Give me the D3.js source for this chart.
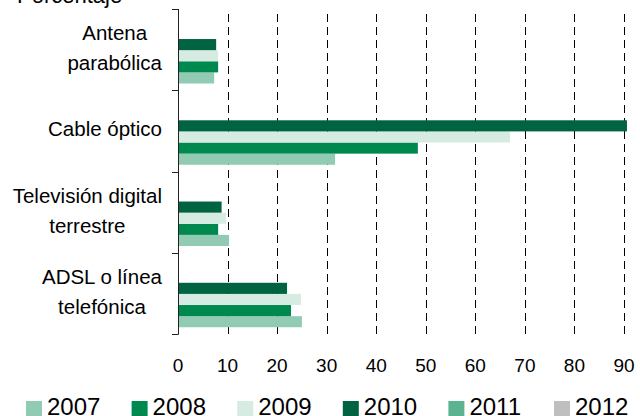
<!DOCTYPE html>
<html>
  <head>
    <meta charset="utf-8">
    <script src="https://cdn.jsdelivr.net/npm/d3@7"></script>
    <style type="text/css">
      body { margin: 0; background: #fff; }
      svg text { font-family: "Liberation Sans", Arial, sans-serif; fill: #000; }
    </style>
  </head>
  <body>
    <div class="plot_canvas"></div>
    <script>

    // data
    var categories = ["Antena parabólica", "Cable óptico", "Televisión digital terrestre", "ADSL o línea telefónica"];
    var catLines = [["Antena", "parabólica"], ["Cable óptico"], ["Televisión digital", "terrestre"], ["ADSL o línea", "telefónica"]];
    var years = ["2007", "2008", "2009", "2010", "2011", "2012"];
    var v2007 = [7.3, 31.7, 10.3, 25.0];
    var v2008 = [8.1, 48.4, 8.1, 22.8];
    var v2009 = [8.1, 67.0, 9.7, 24.8];
    var v2010 = [7.7, 90.6, 8.8, 22.0];
    var v2011 = [null, null, null, null];
    var v2012 = [null, null, null, null];
    var xTicks = [0, 10, 20, 30, 40, 50, 60, 70, 80, 90];
    var colors = ["#92cbb3", "#00894f", "#d6ece2", "#006341", "#5cb392", "#bfbfbf"];

    var series = [v2007, v2008, v2009, v2010, v2011, v2012];

    var W = 640, H = 416;
    var plot = {left: 178, right: 624, top: 9, bottom: 334};

    var svg = d3.select(".plot_canvas")
    .append("svg")
    .attr("width", W)
    .attr("height", H);

    var xScale = d3.scaleLinear()
    .domain([0, 90])
    .range([plot.left, plot.right]);

    var yScale = d3.scaleBand()
    .domain(categories)
    .range([plot.top, plot.bottom]);

    // series slots inside each category, 2012 on top, 2007 at bottom
    var step = yScale.step();
    var inner = d3.scaleBand()
    .domain(years.slice().reverse())
    .range([step * 0.096, step * 0.917]);

    var colorScale = d3.scaleOrdinal().domain(years).range(colors);

    // title (cut off at the top)
    svg.append("text")
    .attr("x", 17)
    .attr("y", 3)
    .style("font-size", "22px")
    .text("Porcentaje");

    // dashed grid
    svg.append("g")
    .selectAll("line")
    .data(xTicks.filter(function(d) { return d > 0; })).enter()
    .append("line")
    .attr("x1", function(d) { return Math.round(xScale(d)) + 0.5; })
    .attr("x2", function(d) { return Math.round(xScale(d)) + 0.5; })
    .attr("y1", plot.bottom)
    .attr("y2", plot.top)
    .attr("stroke", "#000")
    .attr("stroke-width", 1)
    .attr("stroke-dasharray", "8,5");

    // bars
    var groups = svg.append("g")
    .selectAll("g")
    .data(years).enter()
    .append("g")
    .attr("fill", function(d) { return colorScale(d); });

    groups.selectAll("rect")
    .data(function(y, i) {
      return categories.map(function(c, j) { return {year: y, cat: c, value: series[i][j]}; })
        .filter(function(d) { return d.value != null; });
    }).enter()
    .append("rect")
    .attr("x", xScale(0))
    .attr("y", function(d) { return yScale(d.cat) + inner(d.year); })
    .attr("width", function(d) { return xScale(d.value) - xScale(0); })
    .attr("height", inner.bandwidth());

    // y axis with category boundary ticks
    var yAxis = svg.append("g");
    yAxis.append("line")
    .attr("x1", plot.left + 0.5).attr("x2", plot.left + 0.5)
    .attr("y1", plot.top).attr("y2", plot.bottom + 0.5)
    .attr("stroke", "#222");
    var bounds = categories.map(function(c) { return yScale(c); }).concat([plot.bottom]);
    yAxis.selectAll("line.tick")
    .data(bounds).enter()
    .append("line")
    .attr("class", "tick")
    .attr("x1", plot.left - 6).attr("x2", plot.left + 0.5)
    .attr("y1", function(d) { return Math.round(d) + 0.5; })
    .attr("y2", function(d) { return Math.round(d) + 0.5; })
    .attr("stroke", "#222");

    // category labels: lines centred on each other, block right-aligned
    var labelRight = 162;
    categories.forEach(function(c, i) {
      var lines = catLines[i];
      var cy = yScale(c) + step / 2 + 5.5;
      var g = svg.append("g").style("font-size", "20.5px");
      var texts = lines.map(function(l, k) {
        return g.append("text")
          .attr("y", cy + (k - (lines.length - 1) / 2) * 30)
          .text(l);
      });
      var maxW = d3.max(texts, function(t) { return t.node().getComputedTextLength(); });
      texts.forEach(function(t) {
        t.attr("x", labelRight - maxW / 2).attr("text-anchor", "middle");
      });
    });

    // x tick labels
    svg.append("g")
    .selectAll("text")
    .data(xTicks).enter()
    .append("text")
    .attr("x", function(d) { return xScale(d); })
    .attr("y", 372)
    .attr("text-anchor", "middle")
    .style("font-size", "19px")
    .text(function(d) { return d; });

    // legend
    var legend = svg.append("g")
    .selectAll("g")
    .data(years).enter()
    .append("g")
    .attr("transform", function(d, i) { return "translate(" + (26 + i * 105.6) + ",0)"; });

    legend.append("rect")
    .attr("x", 0)
    .attr("y", 401)
    .attr("width", 16)
    .attr("height", 16)
    .attr("fill", function(d) { return colorScale(d); });

    legend.append("text")
    .attr("x", 21)
    .attr("y", 414.5)
    .style("font-size", "24px")
    .text(function(d) { return d; });

  </script>
</body>
</html>
